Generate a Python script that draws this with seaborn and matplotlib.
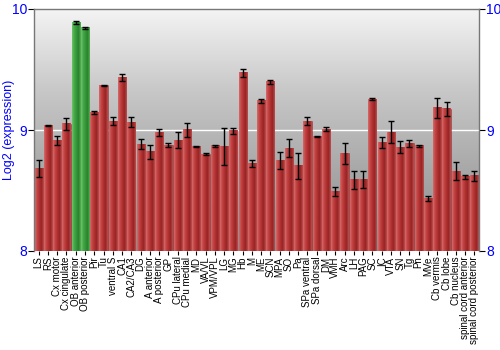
import numpy as np
import pandas as pd
import matplotlib
matplotlib.use("Agg")
import matplotlib.pyplot as plt
import seaborn as sns
from matplotlib.colors import LinearSegmentedColormap

regions = ["LS", "RS", "Cx motor", "Cx cingulate", "OB anterior", "OB posterior", "Pir", "Tu",
           "ventral S", "CA1", "CA2/CA3", "DG", "A anterior", "A posterior", "GP", "CPu lateral",
           "CPu medial", "MD", "VA/VL", "VPM/VPL", "LG", "MG", "Hb", "M", "ME", "SCN", "MPA", "SO",
           "Pa", "SPa ventral", "SPa dorsal", "DM", "VMH", "Arc", "LH", "PAG", "SC", "IC", "VTA",
           "SN", "Tg", "Pn", "MVe", "Cb vermis", "Cb lobe", "Cb nucleus", "spinal cord anterior",
           "spinal cord posterior"]
expression = [8.68, 9.04, 8.91, 9.05, 9.887, 9.846, 9.143, 9.369, 9.074, 9.435, 9.066, 8.884,
              8.82, 8.98, 8.876, 8.917, 9.0, 8.862, 8.799, 8.868, 8.862, 8.992, 9.474, 8.725,
              9.24, 9.397, 8.747, 8.851, 8.705, 9.074, 8.945, 9.008, 8.49, 8.807, 8.587, 8.592,
              9.256, 8.898, 8.983, 8.857, 8.89, 8.868, 8.435, 9.184, 9.174, 8.661, 8.612, 8.62]
errors = [0.07, 0.005, 0.037, 0.05, 0.015, 0.008, 0.014, 0.005, 0.03, 0.026, 0.04, 0.04,
          0.06, 0.027, 0.02, 0.066, 0.058, 0.005, 0.008, 0.01, 0.155, 0.028, 0.032, 0.03,
          0.02, 0.017, 0.073, 0.072, 0.106, 0.03, 0.005, 0.014, 0.035, 0.085, 0.077, 0.07,
          0.01, 0.044, 0.094, 0.05, 0.03, 0.005, 0.02, 0.084, 0.06, 0.072, 0.02, 0.04]
groups = ["other"] * 4 + ["OB", "OB"] + ["other"] * 42

df = pd.DataFrame({"region": regions, "expr": expression, "err": errors, "group": groups})

plt.rcParams["font.family"] = ["Liberation Sans", "DejaVu Sans"]

fig = plt.figure(figsize=(5, 3.5), dpi=100)
ax = fig.add_axes([34 / 500, 1 - 251 / 350, (479 - 34) / 500, (251 - 9) / 350])

sns.barplot(data=df, x="region", y="expr", hue="group", dodge=False, width=0.88,
            palette={"other": "#b83333", "OB": "#3a9e3a"}, legend=False, ax=ax,
            zorder=2, errorbar=None)

# background gradient
bg = LinearSegmentedColormap.from_list("bg", ["#8c8c8c", "#a8a8a8", "#c8c8c8", "#f4f4f4"])
grad = np.linspace(0, 1, 256).reshape(-1, 1)
ax.imshow(grad, aspect="auto", cmap=bg, origin="lower", extent=[0, 1, 0, 1],
          transform=ax.transAxes, zorder=0)

# bar gradients
red_cm = LinearSegmentedColormap.from_list("r", ["#d46a6a", "#c44444", "#b03030", "#962525", "#c05050"])
green_cm = LinearSegmentedColormap.from_list("g", ["#6cc46c", "#45a845", "#35963a", "#2a822e", "#58b058"])
hgrad = np.linspace(0, 1, 64).reshape(1, -1)
for p in list(ax.patches):
    h = p.get_height()
    if h == 0 or np.isnan(h):
        continue
    x0 = p.get_x()
    w = p.get_width()
    fc = p.get_facecolor()
    cm = green_cm if fc[1] > fc[0] else red_cm
    ax.imshow(hgrad, aspect="auto", cmap=cm, extent=[x0, x0 + w, p.get_y(), p.get_y() + h],
              zorder=2.5)
    p.set_edgecolor((0.55, 0.1, 0.1, 0.5) if cm is red_cm else (0.1, 0.45, 0.1, 0.5))
    p.set_linewidth(0.5)

ax.set_xlim(-0.5, len(regions) - 0.5)
ax.set_ylim(8, 10)

ax.errorbar(np.arange(len(regions)), df["expr"], yerr=df["err"], fmt="none",
            ecolor="black", elinewidth=1, capsize=2, capthick=1, zorder=4)

ax.axhline(9, color="white", lw=1, zorder=1)

ax.set_yticks([8, 9, 10])
ax.set_yticklabels(["8", "9", "10"])
ax.tick_params(axis="y", colors="black", labelcolor="blue", labelsize=10, length=4, pad=1,
               left=True, right=True, labelleft=True, labelright=True)
ax.tick_params(axis="x", length=3, labelsize=7, pad=1)
for lab in ax.get_xticklabels():
    lab.set_rotation(90)
ax.set_xlabel("")
ax.set_ylabel("")
fig.text(0.018, 1 - 130 / 350, "Log2 (expression)", color="blue", fontsize=9,
         rotation=90, ha="center", va="center")

for s in ["top", "left", "right"]:
    ax.spines[s].set_color("#777777")
    ax.spines[s].set_linewidth(1)
ax.spines["bottom"].set_visible(False)

fig.savefig("out.png", dpi=100)
